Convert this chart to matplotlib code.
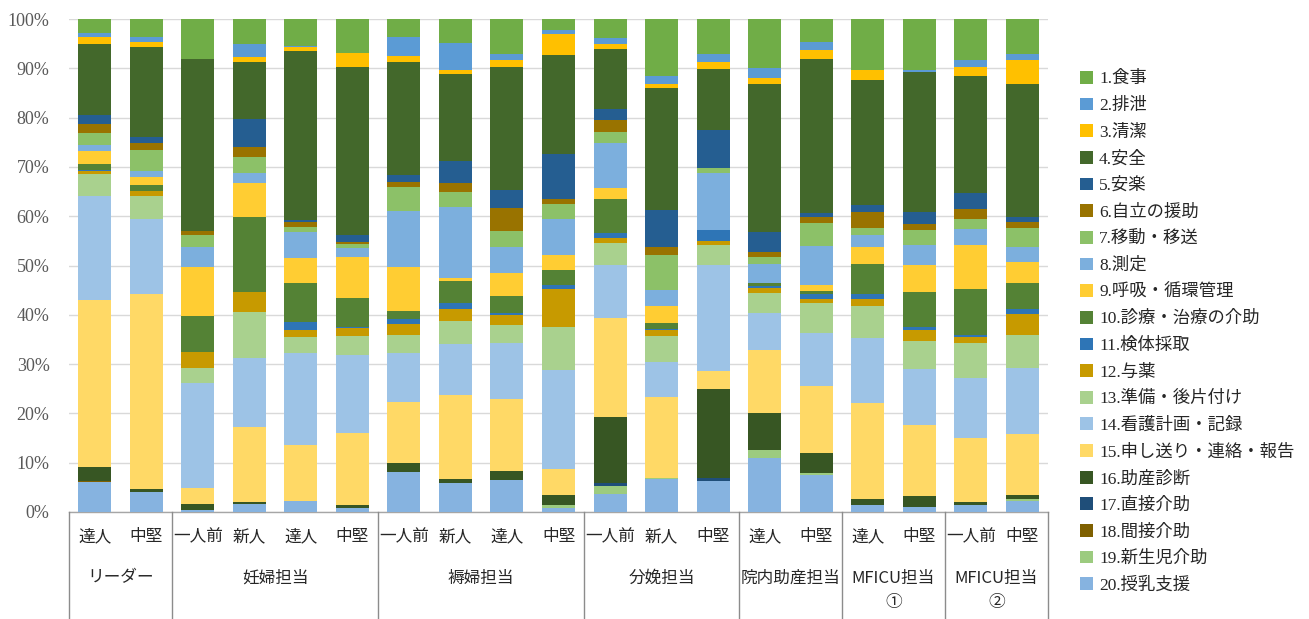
import matplotlib
matplotlib.use("Agg")
import matplotlib.pyplot as plt
import numpy as np

# ---- data ----
bar_labels = ["達人", "中堅", "一人前", "新人", "達人", "中堅", "一人前", "新人", "達人", "中堅",
              "一人前", "新人", "中堅", "達人", "中堅", "達人", "中堅", "一人前", "中堅"]
group_names = ["リーダー", "妊婦担当", "褥婦担当", "分娩担当", "院内助産担当", "MFICU担当\n①", "MFICU担当\n②"]
group_sizes = [2, 4, 4, 3, 2, 2, 2]

categories = ["1.食事", "2.排泄", "3.清潔", "4.安全", "5.安楽", "6.自立の援助", "7.移動・移送",
              "8.測定", "9.呼吸・循環管理", "10.診療・治療の介助", "11.検体採取", "12.与薬",
              "13.準備・後片付け", "14.看護計画・記録", "15.申し送り・連絡・報告", "16.助産診断",
              "17.直接介助", "18.間接介助", "19.新生児介助", "20.授乳支援"]

c1 = [2.9, 3.6, 8.1, 5.1, 5.4, 6.8, 3.7, 4.9, 7.1, 2.2, 3.8, 11.6, 7.2, 10.0, 4.7, 10.3, 10.3, 8.3, 7.0]
c2 = [0.8, 1.0, 0, 2.7, 0.2, 0, 3.9, 5.4, 1.2, 0.9, 1.3, 1.5, 1.5, 1.9, 1.6, 0, 0.5, 1.5, 1.3]
c3 = [1.4, 1.1, 0, 0.9, 0.8, 2.9, 1.1, 0.9, 1.4, 4.2, 0.9, 0.8, 1.5, 1.2, 1.9, 2.1, 0, 1.8, 4.8]
c4 = [14.4, 18.3, 34.9, 11.6, 34.3, 34.2, 22.9, 17.6, 24.9, 20.1, 12.3, 24.8, 12.3, 30.2, 31.1, 25.3, 28.3, 23.6, 27.0]
c5 = [1.8, 1.1, 0, 5.6, 0.5, 1.3, 1.5, 4.5, 3.8, 9.2, 2.2, 7.5, 7.8, 3.9, 0.8, 1.5, 2.5, 3.3, 1.0]
c6 = [1.8, 1.5, 0.9, 2.0, 0.9, 0.5, 1.0, 1.7, 4.6, 1.0, 2.4, 1.7, 0, 1.0, 1.3, 3.1, 1.1, 2.1, 1.2]
c7 = [2.5, 4.2, 2.4, 3.4, 1.2, 0.8, 4.8, 3.1, 3.3, 3.0, 2.2, 7.1, 1.0, 1.4, 4.6, 1.5, 3.1, 1.9, 4.0]
c8 = [1.2, 1.2, 4.1, 2.0, 5.2, 1.8, 11.5, 14.5, 5.3, 7.3, 9.1, 3.3, 11.5, 4.0, 8.0, 2.5, 4.0, 3.3, 2.9]
c9 = [2.6, 1.7, 9.8, 6.8, 5.0, 8.2, 8.8, 0.5, 4.6, 3.0, 2.3, 3.4, 0, 0, 1.2, 3.3, 5.6, 9.0, 4.3]
c10 = [1.2, 1.2, 7.3, 15.3, 8.0, 5.9, 1.7, 4.6, 3.4, 3.1, 7.0, 1.2, 0, 0.5, 0.6, 6.2, 7.1, 9.3, 5.3]
c11 = [0.2, 0, 0, 0, 1.6, 0.3, 1.0, 1.1, 0.4, 0.8, 0.9, 0.2, 2.2, 0.4, 0.9, 1.0, 0.6, 0.5, 1.1]
c12 = [0.6, 1.0, 3.2, 4.0, 1.5, 1.7, 2.1, 2.5, 2.1, 7.6, 1.0, 1.1, 0.8, 1.1, 1.0, 1.4, 2.3, 1.1, 4.1]
c13 = [4.6, 4.7, 3.2, 9.4, 3.1, 3.8, 3.7, 4.7, 3.7, 8.8, 4.4, 5.3, 4.0, 4.0, 5.9, 6.6, 5.6, 7.1, 6.7]
c14 = [20.9, 15.2, 21.2, 14.0, 18.8, 15.8, 9.9, 10.3, 11.3, 20.1, 10.8, 7.1, 21.6, 7.5, 10.8, 13.0, 11.4, 12.1, 13.5]
c15 = [34.0, 39.5, 3.3, 15.2, 11.3, 14.6, 12.5, 17.1, 14.6, 5.3, 20.1, 16.6, 3.7, 12.9, 13.7, 19.6, 14.3, 13.1, 12.4]
c16 = [2.8, 0.6, 1.2, 0.4, 0, 0.5, 1.7, 0.7, 1.9, 2.0, 13.5, 0, 18.1, 7.4, 3.9, 1.2, 2.2, 0.6, 0.8]
c17 = [0.1, 0, 0, 0, 0, 0, 0, 0, 0, 0, 0.5, 0, 0.6, 0, 0, 0, 0, 0, 0]
c18 = [0.1, 0, 0, 0, 0, 0, 0, 0, 0, 0, 0, 0, 0, 0, 0, 0, 0, 0, 0]
c19 = [0.1, 0.1, 0, 0, 0, 0, 0, 0, 0, 0.5, 1.6, 0.2, 0, 1.6, 0.4, 0, 0, 0, 0.3]
c20 = [6.0, 4.0, 0.4, 1.6, 2.2, 0.9, 8.2, 5.9, 6.4, 0.9, 3.7, 6.6, 6.2, 11.0, 7.6, 1.4, 1.1, 1.4, 2.3]

series = [c1, c2, c3, c4, c5, c6, c7, c8, c9, c10, c11, c12, c13, c14, c15, c16, c17, c18, c19, c20]

colors = ["#70AD47", "#5B9BD5", "#FFC000", "#43682B", "#255E91", "#997300", "#8CC168",
          "#7CAFDD", "#FFCD33", "#548235", "#2E75B6", "#C79A00", "#A9D18E", "#9DC3E6",
          "#FFD966", "#375623", "#1F4E79", "#7F6000", "#9CCB7F", "#86B3E0"]

# ---- figure ----
W, H = 1309, 619
fig = plt.figure(figsize=(W / 100, H / 100), dpi=100)
ax_l, ax_r, ax_t, ax_b = 69, 1048, 19, 512
ax = fig.add_axes([ax_l / W, 1 - ax_b / H, (ax_r - ax_l) / W, (ax_b - ax_t) / H])

data = np.array(series, dtype=float)
data = data / data.sum(axis=0) * 100.0
x = np.arange(len(bar_labels))

handles = [None] * len(categories)
bottom = np.zeros(len(bar_labels))
for i in range(len(categories) - 1, -1, -1):
    h = ax.bar(x, data[i], bottom=bottom, width=0.64, color=colors[i], label=categories[i],
               zorder=3, linewidth=0)
    handles[i] = h
    bottom += data[i]

ax.set_xlim(-0.5, len(bar_labels) - 0.5)
ax.set_ylim(0, 100)
ax.set_yticks(np.arange(0, 101, 10))
ax.set_yticklabels([f"{v}%" for v in range(0, 101, 10)], fontfamily="Liberation Serif",
                   fontsize=13, color="#595959")
ax.yaxis.grid(True, color="#D9D9D9", linewidth=1.0, zorder=0)
ax.tick_params(axis="y", length=0, pad=14)
ax.tick_params(axis="x", length=0, labelbottom=False)
for s in ["top", "right", "left"]:
    ax.spines[s].set_visible(False)
ax.spines["bottom"].set_color("#A6A6A6")
ax.spines["bottom"].set_linewidth(1.0)

# ---- category axis (two levels) ----
trans = ax.get_xaxis_transform()
axh = ax_b - ax_t
row1 = -(537 - ax_b) / axh
row2 = -(578 - ax_b) / axh
row3 = -(603 - ax_b) / axh
line_end = -(H - ax_b) / axh
jp = ["Noto Sans CJK JP", "DejaVu Sans"]
for xi, lab in zip(x, bar_labels):
    ax.text(xi, row1, lab, transform=trans, ha="center", va="center", fontsize=12,
            family=jp, color="#262626")

start = 0
bounds = [-0.5]
for name, n in zip(group_names, group_sizes):
    center = start + (n - 1) / 2
    lines = name.split("\n")
    ax.text(center, row2, lines[0], transform=trans, ha="center", va="center", fontsize=12,
            family=jp, color="#262626")
    if len(lines) > 1:
        ax.text(center, row3, lines[1], transform=trans, ha="center", va="center", fontsize=12,
                family=jp, color="#262626")
    start += n
    bounds.append(start - 0.5)
for b in bounds:
    ax.plot([b, b], [0, line_end], transform=trans, color="#8C8C8C", linewidth=1.0,
            clip_on=False, zorder=4)

# ---- legend ----
leg = fig.legend(handles=handles, labels=categories, loc="upper left",
                 bbox_to_anchor=(1073 / W, 1 - 64 / H), frameon=False,
                 prop={"family": ["Liberation Serif", "Noto Sans CJK JP"], "size": 12.5},
                 handlelength=0.75, handleheight=0.75, handletextpad=0.35,
                 labelspacing=0.59, borderaxespad=0)
for t in leg.get_texts():
    t.set_color("#262626")

fig.savefig("out.png", dpi=100)
